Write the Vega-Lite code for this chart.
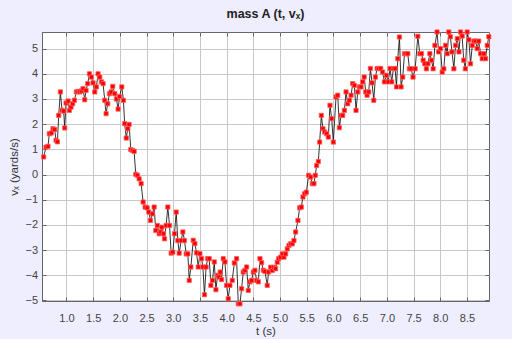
{
  "$schema": "https://vega.github.io/schema/vega-lite/v6.json",
  "width": 447,
  "height": 269,
  "autosize": "none",
  "padding": {"left": 42, "top": 32, "right": 23, "bottom": 38},
  "background": "#eeeeff",
  "title": {"text": "mass A (t, vₓ)", "font": "Liberation Sans", "fontSize": 12.5, "fontWeight": "bold", "color": "#222222", "offset": 8},
  "config": {"view": {"stroke": "#666666", "fill": "white"}},
  "data": {"values": [
    {"t":0.573,"v":0.70},{"t":0.617,"v":1.09},{"t":0.654,"v":1.12},{"t":0.679,"v":1.62},{"t":0.717,"v":1.65},
    {"t":0.748,"v":1.82},{"t":0.78,"v":1.79},{"t":0.805,"v":1.36},{"t":0.83,"v":1.30},{"t":0.855,"v":2.35},
    {"t":0.886,"v":3.28},{"t":0.917,"v":2.55},{"t":0.948,"v":2.52},{"t":0.967,"v":1.85},{"t":0.992,"v":2.84},
    {"t":1.03,"v":2.92},{"t":1.055,"v":2.55},{"t":1.086,"v":2.68},{"t":1.117,"v":2.81},{"t":1.148,"v":2.95},
    {"t":1.186,"v":3.28},{"t":1.217,"v":3.30},{"t":1.248,"v":3.28},{"t":1.28,"v":3.32},{"t":1.31,"v":3.41},
    {"t":1.342,"v":2.97},{"t":1.367,"v":3.34},{"t":1.398,"v":3.61},{"t":1.43,"v":4.0},{"t":1.467,"v":3.87},
    {"t":1.498,"v":3.64},{"t":1.53,"v":3.28},{"t":1.56,"v":3.48},{"t":1.592,"v":4.0},{"t":1.623,"v":3.87},
    {"t":1.654,"v":3.68},{"t":1.686,"v":3.61},{"t":1.717,"v":2.95},{"t":1.742,"v":2.42},{"t":1.773,"v":2.81},
    {"t":1.805,"v":3.21},{"t":1.836,"v":3.28},{"t":1.867,"v":3.50},{"t":1.905,"v":3.21},{"t":1.936,"v":3.0},
    {"t":1.967,"v":2.6},{"t":1.995,"v":3.1},{"t":2.036,"v":3.48},{"t":2.067,"v":2.95},{"t":2.09,"v":2.02},
    {"t":2.12,"v":1.45},{"t":2.148,"v":1.82},{"t":2.173,"v":1.99},{"t":2.205,"v":0.99},{"t":2.236,"v":0.96},
    {"t":2.267,"v":0.92},{"t":2.298,"v":0.01},{"t":2.33,"v":-0.03},{"t":2.361,"v":-0.17},{"t":2.398,"v":-0.36},
    {"t":2.436,"v":-1.09},{"t":2.473,"v":-1.29},{"t":2.511,"v":-1.32},{"t":2.542,"v":-1.49},{"t":2.573,"v":-1.82},
    {"t":2.611,"v":-1.56},{"t":2.642,"v":-1.29},{"t":2.673,"v":-2.22},{"t":2.705,"v":-2.02},{"t":2.736,"v":-2.35},
    {"t":2.767,"v":-2.28},{"t":2.786,"v":-2.09},{"t":2.817,"v":-2.35},{"t":2.836,"v":-2.55},{"t":2.867,"v":-2.02},
    {"t":2.898,"v":-1.29},{"t":2.93,"v":-2.02},{"t":2.961,"v":-3.12},{"t":2.992,"v":-3.08},{"t":3.023,"v":-2.35},
    {"t":3.055,"v":-1.49},{"t":3.086,"v":-2.62},{"t":3.111,"v":-3.12},{"t":3.148,"v":-2.62},{"t":3.18,"v":-2.28},
    {"t":3.211,"v":-2.62},{"t":3.242,"v":-3.15},{"t":3.273,"v":-3.15},{"t":3.299,"v":-4.2},{"t":3.33,"v":-3.67},
    {"t":3.374,"v":-2.61},{"t":3.405,"v":-2.74},{"t":3.436,"v":-3.11},{"t":3.468,"v":-3.67},{"t":3.499,"v":-3.14},
    {"t":3.53,"v":-3.34},{"t":3.555,"v":-3.67},{"t":3.585,"v":-4.77},{"t":3.615,"v":-3.67},{"t":3.645,"v":-3.34},
    {"t":3.674,"v":-3.34},{"t":3.705,"v":-4.4},{"t":3.736,"v":-4.2},{"t":3.768,"v":-3.47},{"t":3.799,"v":-4.57},
    {"t":3.83,"v":-4.0},{"t":3.855,"v":-4.07},{"t":3.88,"v":-3.87},{"t":3.905,"v":-4.17},{"t":3.936,"v":-3.34},
    {"t":3.968,"v":-3.47},{"t":3.999,"v":-4.4},{"t":4.03,"v":-4.93},{"t":4.061,"v":-4.4},{"t":4.105,"v":-4.2},
    {"t":4.143,"v":-3.51},{"t":4.186,"v":-3.34},{"t":4.218,"v":-5.13},{"t":4.249,"v":-5.13},{"t":4.28,"v":-4.53},
    {"t":4.311,"v":-3.87},{"t":4.343,"v":-3.8},{"t":4.374,"v":-3.67},{"t":4.405,"v":-4.6},{"t":4.436,"v":-4.26},
    {"t":4.468,"v":-4.2},{"t":4.499,"v":-3.87},{"t":4.53,"v":-3.8},{"t":4.561,"v":-4.2},{"t":4.593,"v":-4.26},
    {"t":4.624,"v":-3.34},{"t":4.655,"v":-3.5},{"t":4.686,"v":-3.8},{"t":4.718,"v":-3.85},{"t":4.76,"v":-4.4},
    {"t":4.785,"v":-3.87},{"t":4.823,"v":-3.68},{"t":4.854,"v":-3.81},{"t":4.885,"v":-3.68},{"t":4.917,"v":-3.74},
    {"t":4.948,"v":-3.48},{"t":4.973,"v":-3.34},{"t":5.01,"v":-3.28},{"t":5.042,"v":-3.15},{"t":5.073,"v":-3.28},
    {"t":5.104,"v":-3.15},{"t":5.135,"v":-2.95},{"t":5.167,"v":-2.81},{"t":5.198,"v":-2.75},{"t":5.229,"v":-2.75},
    {"t":5.26,"v":-2.62},{"t":5.292,"v":-2.28},{"t":5.335,"v":-1.82},{"t":5.367,"v":-1.32},{"t":5.398,"v":-1.29},
    {"t":5.429,"v":-0.89},{"t":5.46,"v":-0.76},{"t":5.492,"v":-0.7},{"t":5.535,"v":-0.03},{"t":5.573,"v":-0.1},
    {"t":5.604,"v":-0.36},{"t":5.635,"v":-0.36},{"t":5.66,"v":-0.03},{"t":5.685,"v":0.36},{"t":5.717,"v":0.52},
    {"t":5.742,"v":1.29},{"t":5.773,"v":2.35},{"t":5.804,"v":1.82},{"t":5.835,"v":1.69},{"t":5.873,"v":1.62},
    {"t":5.904,"v":1.49},{"t":5.935,"v":2.75},{"t":5.967,"v":2.22},{"t":5.998,"v":1.29},{"t":6.048,"v":3.08},
    {"t":6.08,"v":3.15},{"t":6.111,"v":1.86},{"t":6.142,"v":2.35},{"t":6.173,"v":2.35},{"t":6.205,"v":2.55},
    {"t":6.236,"v":3.28},{"t":6.267,"v":2.81},{"t":6.298,"v":2.95},{"t":6.33,"v":3.15},{"t":6.361,"v":3.61},
    {"t":6.392,"v":3.54},{"t":6.423,"v":2.55},{"t":6.455,"v":3.28},{"t":6.486,"v":3.48},{"t":6.517,"v":3.48},
    {"t":6.548,"v":3.68},{"t":6.575,"v":3.87},{"t":6.605,"v":3.28},{"t":6.63,"v":3.15},{"t":6.661,"v":3.28},
    {"t":6.692,"v":4.21},{"t":6.723,"v":3.64},{"t":6.755,"v":2.95},{"t":6.786,"v":3.87},{"t":6.818,"v":4.21},
    {"t":6.85,"v":4.21},{"t":6.885,"v":4.21},{"t":6.92,"v":4.07},{"t":6.955,"v":3.68},{"t":6.99,"v":3.94},
    {"t":7.025,"v":3.68},{"t":7.06,"v":4.21},{"t":7.092,"v":3.68},{"t":7.123,"v":4.21},{"t":7.155,"v":4.21},
    {"t":7.18,"v":3.48},{"t":7.205,"v":4.6},{"t":7.236,"v":5.46},{"t":7.267,"v":3.48},{"t":7.298,"v":3.87},
    {"t":7.33,"v":4.8},{"t":7.361,"v":4.8},{"t":7.392,"v":4.8},{"t":7.423,"v":4.2},{"t":7.455,"v":4.2},
    {"t":7.49,"v":3.87},{"t":7.53,"v":4.2},{"t":7.58,"v":5.49},{"t":7.617,"v":4.8},{"t":7.648,"v":4.8},
    {"t":7.68,"v":4.54},{"t":7.71,"v":4.4},{"t":7.74,"v":4.2},{"t":7.77,"v":4.4},{"t":7.805,"v":4.8},
    {"t":7.836,"v":4.54},{"t":7.867,"v":4.2},{"t":7.9,"v":5.13},{"t":7.94,"v":5.66},{"t":7.97,"v":4.87},
    {"t":8.005,"v":5.0},{"t":8.036,"v":4.07},{"t":8.067,"v":4.2},{"t":8.1,"v":5.13},{"t":8.13,"v":4.8},
    {"t":8.16,"v":5.66},{"t":8.19,"v":5.47},{"t":8.22,"v":4.87},{"t":8.255,"v":4.2},{"t":8.286,"v":5.13},
    {"t":8.32,"v":5.4},{"t":8.35,"v":4.87},{"t":8.38,"v":5.66},{"t":8.41,"v":5.5},{"t":8.44,"v":4.54},
    {"t":8.47,"v":4.2},{"t":8.505,"v":5.66},{"t":8.536,"v":5.35},{"t":8.567,"v":4.4},{"t":8.6,"v":5.13},
    {"t":8.63,"v":5.3},{"t":8.66,"v":5.3},{"t":8.692,"v":5.0},{"t":8.72,"v":5.3},{"t":8.755,"v":4.8},
    {"t":8.786,"v":4.6},{"t":8.817,"v":4.8},{"t":8.85,"v":4.6},{"t":8.88,"v":5.13},{"t":8.91,"v":5.47}
  ]},
  "layer": [
    {
      "mark": {"type": "line", "color": "black", "strokeWidth": 0.8},
      "encoding": {
        "x": {"field": "t", "type": "quantitative",
          "scale": {"domain": [0.542, 8.913], "nice": false, "zero": false},
          "axis": {"orient": "bottom", "values": [1,1.5,2,2.5,3,3.5,4,4.5,5,5.5,6,6.5,7,7.5,8,8.5], "format": ".1f",
            "title": "t (s)", "labelFont": "Liberation Sans", "labelFontSize": 11, "labelColor": "#444444",
            "titleFont": "Liberation Sans", "titleFontSize": 11.5, "titleFontWeight": "normal", "titleColor": "#333333",
            "titlePadding": 2, "labelPadding": 15, "tickSize": -4, "tickColor": "#666666", "domainColor": "#666666",
            "grid": true, "gridColor": "#c8c8c8", "gridWidth": 1}},
        "y": {"field": "v", "type": "quantitative",
          "scale": {"domain": [-5.02, 5.66], "nice": false, "zero": false},
          "axis": {"orient": "left", "values": [-5,-4,-3,-2,-1,0,1,2,3,4,5], "format": "d",
            "title": "vₓ (yards/s)", "labelFont": "Liberation Sans", "labelFontSize": 11, "labelColor": "#444444",
            "titleFont": "Liberation Sans", "titleFontSize": 11.5, "titleFontWeight": "normal", "titleColor": "#333333",
            "titlePadding": 5, "labelPadding": 8.5, "tickSize": -4, "tickColor": "#666666", "domainColor": "#666666",
            "grid": true, "gridColor": "#c8c8c8", "gridWidth": 1}}
      }
    },
    {
      "mark": {"type": "square", "color": "#ff0000", "size": 18, "opacity": 1, "stroke": "#ff6060", "strokeWidth": 0.8},
      "encoding": {
        "x": {"field": "t", "type": "quantitative",
          "scale": {"domain": [0.542, 8.913], "nice": false, "zero": false},
          "axis": {"orient": "top", "values": [1,1.5,2,2.5,3,3.5,4,4.5,5,5.5,6,6.5,7,7.5,8,8.5], "labels": false, "title": null,
            "grid": false, "domain": false, "tickSize": -4, "tickColor": "#666666"}},
        "y": {"field": "v", "type": "quantitative",
          "scale": {"domain": [-5.02, 5.66], "nice": false, "zero": false},
          "axis": {"orient": "right", "values": [-5,-4,-3,-2,-1,0,1,2,3,4,5], "labels": false, "title": null,
            "grid": false, "domain": false, "tickSize": -4, "tickColor": "#666666"}}
      }
    }
  ],
  "resolve": {"axis": {"x": "independent", "y": "independent"}}
}
